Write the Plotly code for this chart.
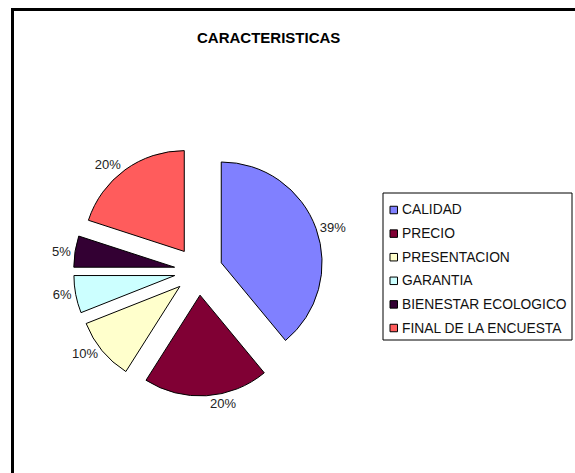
import plotly.graph_objects as go

# ---- data ----
labels = ["CALIDAD", "PRECIO", "PRESENTACION", "GARANTIA",
          "BIENESTAR ECOLOGICO", "FINAL DE LA ENCUESTA"]
values = [39, 20, 10, 6, 5, 20]
colors = ["#8080FF", "#800034", "#FFFFCC", "#CCFFFF", "#330033", "#FF5C5C"]
title_text = "CARACTERISTICAS"

W, H = 575, 473
FONT = "Liberation Sans, Arial, sans-serif"

def px(x):
    return x / W

def py(y):
    return 1 - y / H

fig = go.Figure()
fig.add_trace(go.Pie(
    labels=labels,
    values=values,
    sort=False,
    direction="clockwise",
    rotation=0,
    pull=[0.24] * len(values),
    marker=dict(colors=colors, line=dict(color="#000000", width=1)),
    texttemplate="%{value}%",
    textposition="outside",
    outsidetextfont=dict(family=FONT, size=13, color="#222222"),
    showlegend=False,
    domain=dict(x=[px(73.5), px(323.5)], y=[py(397), py(145)]),
))

shapes = []
annotations = []

# outer frame (left + top visible)
shapes.append(dict(type="rect", xref="paper", yref="paper",
                   x0=px(12.5), x1=px(600), y0=py(500), y1=py(9.5),
                   line=dict(color="#000000", width=3), fillcolor="rgba(0,0,0,0)"))

# title
annotations.append(dict(text="<b>" + title_text + "</b>", xref="paper", yref="paper",
                        x=px(268), y=py(37), showarrow=False,
                        xanchor="center", yanchor="middle",
                        font=dict(family=FONT, size=15, color="#000000")))

# legend box
shapes.append(dict(type="rect", xref="paper", yref="paper",
                   x0=px(383), x1=px(572), y0=py(340), y1=py(193),
                   line=dict(color="#000000", width=1), fillcolor="#FFFFFF"))
row0, step = 210, 23.6
for i, (lab, col) in enumerate(zip(labels, colors)):
    yc = row0 + i * step
    shapes.append(dict(type="rect", xref="paper", yref="paper",
                       x0=px(390), x1=px(397.5), y0=py(yc + 3.75), y1=py(yc - 3.75),
                       line=dict(color="#000000", width=1), fillcolor=col))
    annotations.append(dict(text=lab, xref="paper", yref="paper",
                            x=px(400), y=py(yc), showarrow=False,
                            xanchor="left", yanchor="middle",
                            font=dict(family=FONT, size=13.8, color="#111111")))

fig.update_layout(
    width=W, height=H,
    margin=dict(l=0, r=0, t=0, b=0),
    paper_bgcolor="#FFFFFF",
    plot_bgcolor="#FFFFFF",
    shapes=shapes,
    annotations=annotations,
    showlegend=False,
)

fig.write_html("out.html",
               config={"displayModeBar": False},
               post_script="document.body.style.margin='0';document.body.style.overflow='hidden';")
